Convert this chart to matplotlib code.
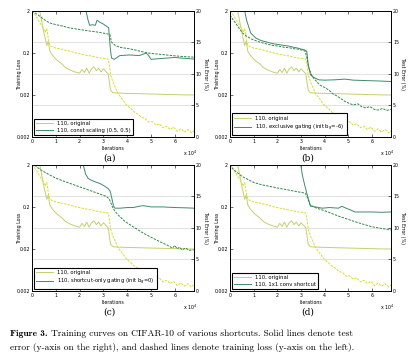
import matplotlib
matplotlib.use("Agg")
import matplotlib.pyplot as plt

# iterations are in units of 10^4
orig_err_x = [0.2, 0.35, 0.5, 0.62, 0.68, 0.75, 0.85, 0.96, 1.1, 1.25, 1.4, 1.6, 1.8, 2.0, 2.1, 2.2, 2.3,
              2.4, 2.5, 2.6, 2.7, 2.8, 2.9, 3.0, 3.1, 3.2, 3.3, 3.4, 3.6, 4.0, 4.5, 5.0, 5.5, 6.0, 6.5, 6.8]
orig_err = [22, 19.5, 16.5, 14.5, 15.2, 13.6, 13.0, 12.5, 12.0, 11.6, 11.0, 10.6, 10.3, 10.1, 10.7, 10.2, 10.9,
            10.1, 10.8, 11.1, 10.5, 10.9, 10.3, 10.8, 10.4, 10.0, 7.4, 7.0, 6.95, 6.9, 6.85, 6.8, 6.75, 6.7, 6.65, 6.65]
orig_loss_x = [0, 0.1, 0.2, 0.3, 0.4, 0.5, 0.55, 0.62, 0.68, 0.75, 0.85, 1.0, 1.15, 1.3, 1.5, 1.7, 1.9, 2.1,
               2.3, 2.5, 2.7, 2.9, 3.05, 3.2, 3.25, 3.3, 3.4, 3.5, 3.6, 3.75, 3.9, 4.0, 4.15, 4.3, 4.45, 4.6,
               4.75, 4.9, 5.05, 5.2, 5.35, 5.5, 5.65, 5.8, 5.95, 6.1, 6.25, 6.4, 6.55, 6.7, 6.8]
orig_loss = [2.0, 1.7, 1.4, 1.1, 0.9, 0.72, 0.62, 0.75, 0.45, 0.3, 0.28, 0.26, 0.25, 0.24, 0.225, 0.21, 0.195,
             0.185, 0.175, 0.168, 0.158, 0.15, 0.147, 0.142, 0.1, 0.06, 0.04, 0.03, 0.022, 0.017, 0.013, 0.011,
             0.0095, 0.0078, 0.007, 0.0058, 0.0055, 0.0045, 0.0046, 0.0038, 0.0041, 0.0033, 0.0036, 0.003,
             0.0034, 0.0027, 0.0031, 0.0026, 0.003, 0.0025, 0.0028]

a_name = "110, const scaling (0.5, 0.5)"
a_err_x = [2.1, 2.25, 2.35, 2.42, 2.55, 2.66, 2.73, 2.85, 3.0, 3.15, 3.22, 3.29, 3.34, 3.45, 3.69, 4.1, 4.5,
           4.8, 4.9, 5.0, 5.3, 5.65, 6.0, 6.3, 6.8]
a_err = [23, 20.3, 18.6, 17.7, 17.8, 17.7, 18.5, 18.2, 17.9, 17.5, 17.3, 14.0, 12.5, 12.3, 12.9, 13.0, 12.9,
         13.3, 12.9, 12.3, 12.4, 12.5, 12.6, 12.5, 12.35]
a_loss_x = [0, 0.25, 0.5, 0.75, 1.0, 1.31, 1.6, 2.0, 2.35, 2.71, 3.0, 3.27, 3.34, 3.5, 3.69, 4.0, 4.25, 4.6,
            4.95, 5.3, 5.65, 6.0, 6.35, 6.8]
a_loss = [2.0, 1.6, 1.25, 1.03, 0.94, 0.86, 0.78, 0.72, 0.67, 0.63, 0.59, 0.55, 0.36, 0.3, 0.27, 0.255, 0.24,
          0.215, 0.195, 0.187, 0.178, 0.17, 0.163, 0.158]

b_name = "110, exclusive gating (init b$_g$=-6)"
b_err_x = [0.5, 0.59, 0.7, 0.87, 1.08, 1.3, 1.6, 1.8, 2.05, 2.3, 2.5, 2.7, 2.85, 3.03, 3.15, 3.24, 3.3, 3.4,
           3.55, 3.75, 4.0, 4.4, 4.86, 5.2, 5.6, 6.0, 6.4, 6.8]
b_err = [24, 20.5, 18.5, 16.5, 15.7, 15.3, 15.0, 14.8, 14.65, 14.5, 14.4, 14.2, 14.1, 13.9, 13.8, 13.6, 11.5,
         9.84, 9.4, 9.05, 9.0, 9.05, 9.16, 9.0, 8.95, 8.9, 8.85, 8.78]
b_loss_x = [0, 0.1, 0.3, 0.52, 0.7, 0.93, 1.2, 1.5, 1.8, 2.05, 2.3, 2.5, 2.7, 2.9, 3.05, 3.17, 3.25, 3.32,
            3.47, 3.6, 3.8, 4.0, 4.17, 4.35, 4.5, 4.7, 4.86, 5.0, 5.2, 5.4, 5.56, 5.75, 5.9, 6.1, 6.26, 6.45,
            6.6, 6.8]
b_loss = [1.6, 1.3, 0.9, 0.6, 0.5, 0.42, 0.37, 0.33, 0.3, 0.29, 0.27, 0.265, 0.25, 0.245, 0.23, 0.22, 0.15,
          0.09, 0.055, 0.045, 0.034, 0.03, 0.026, 0.021, 0.019, 0.016, 0.0138, 0.0128, 0.0115, 0.0122, 0.0104,
          0.0098, 0.0105, 0.009, 0.0087, 0.0095, 0.0085, 0.009]

c_name = "110, shortcut-only gating (init b$_g$=0)"
c_err_x = [2.05, 2.15, 2.25, 2.36, 2.5, 2.7, 2.85, 3.0, 3.2, 3.28, 3.34, 3.42, 3.48, 3.7, 4.0, 4.25, 4.5,
           4.67, 4.85, 5.0, 5.5, 6.0, 6.5, 6.8]
c_err = [22, 20.0, 18.5, 17.8, 17.5, 17.2, 17.0, 16.7, 16.2, 15.8, 14.9, 13.5, 13.1, 13.1, 13.2, 13.2, 13.4,
         13.5, 13.4, 13.3, 13.3, 13.2, 13.15, 13.1]
c_loss_x = [0, 0.06, 0.4, 0.75, 1.0, 1.4, 1.97, 2.5, 3.13, 3.25, 3.41, 3.6, 3.9, 4.25, 4.6, 4.95, 5.3, 5.65,
            5.9, 6.0, 6.1, 6.2, 6.3, 6.45, 6.6, 6.8]
c_loss = [2.2, 2.0, 1.45, 1.13, 0.95, 0.78, 0.6, 0.47, 0.35, 0.3, 0.18, 0.13, 0.09, 0.067, 0.05, 0.039, 0.031,
          0.025, 0.021, 0.024, 0.02, 0.022, 0.019, 0.021, 0.0185, 0.019]

d_name = "110, 1x1 conv shortcut"
d_err_x = [2.95, 3.05, 3.15, 3.26, 3.4, 3.6, 3.89, 4.2, 4.58, 4.72, 4.9, 5.1, 5.28, 5.6, 6.0, 6.4, 6.8]
d_err = [21, 18.4, 16.8, 15.2, 13.4, 13.3, 13.1, 13.2, 13.1, 13.4, 13.1, 12.8, 12.5, 12.5, 12.5, 12.45, 12.5]
d_loss_x = [0, 0.1, 0.5, 1.0, 1.35, 2.05, 2.6, 3.17, 3.25, 3.38, 3.6, 4.0, 4.58, 5.28, 5.98, 6.8]
d_loss = [2.0, 1.6, 1.05, 0.75, 0.66, 0.55, 0.48, 0.42, 0.35, 0.22, 0.19, 0.16, 0.12, 0.088, 0.067, 0.056]

panels = ["(a)", "(b)", "(c)", "(d)"]

orig_err_c = "#c6cf6e"
orig_loss_c = "#d9dd2c"
new_err_c = "#3f8a6c"
new_loss_c = "#2f8a45"

fig = plt.figure(figsize=(4.16, 3.62), dpi=100)
fig.patch.set_facecolor("white")

pos = [[0.077, 0.622, 0.389, 0.348], [0.553, 0.622, 0.387, 0.348],
       [0.077, 0.196, 0.389, 0.3495], [0.553, 0.196, 0.387, 0.3495]]
series = [(a_name, a_err_x, a_err, a_loss_x, a_loss),
          (b_name, b_err_x, b_err, b_loss_x, b_loss),
          (c_name, c_err_x, c_err, c_loss_x, c_loss),
          (d_name, d_err_x, d_err, d_loss_x, d_loss)]

fs = 3.4
for i in range(4):
    name, ex, ey, lx, ly = series[i]
    # base axes: test error (right axis)
    ax = fig.add_axes(pos[i])
    ax2 = ax.twinx()  # training loss (left axis, log)

    ax.set_xlim(0, 6.8)
    ax.set_ylim(0, 20)
    ax.set_yticks([0, 5, 10, 15, 20])
    ax.set_xticks(range(7))
    ax.yaxis.tick_right()
    ax.yaxis.set_label_position("right")
    ax.set_ylabel("Test Error (%)", fontsize=fs, rotation=270, va="center", ha="center")
    ax.yaxis.set_label_coords(1.07, 0.5)
    ax.set_xlabel("Iterations", fontsize=fs, labelpad=1.5)
    ax.grid(axis="y", color="#dcdcdc", lw=0.6)
    ax.tick_params(direction="in", labelsize=fs, length=2, width=0.4, pad=1.5, top=True)
    l1, = ax.plot(orig_err_x, orig_err, color=orig_err_c, lw=0.7)
    l2, = ax.plot(ex, ey, color=new_err_c, lw=0.7)
    for s in ax.spines.values():
        s.set_linewidth(0.6)

    ax2.set_yscale("log")
    ax2.set_ylim(0.002, 2)
    ax2.set_yticks([0.002, 0.02, 0.2, 2])
    ax2.set_yticklabels(["0.002", "0.02", "0.2", "2"])
    ax2.minorticks_off()
    ax2.yaxis.tick_left()
    ax2.yaxis.set_label_position("left")
    ax2.set_ylabel("Training Loss", fontsize=fs, va="center", ha="center")
    ax2.yaxis.set_label_coords(-0.08, 0.5)
    ax2.tick_params(direction="in", labelsize=fs, length=2, width=0.4, pad=1.5)
    ax2.plot(orig_loss_x, orig_loss, color=orig_loss_c, lw=0.7, ls=(0, (2.5, 1.2)))
    ax2.plot(lx, ly, color=new_loss_c, lw=0.7, ls=(0, (2.5, 1.2)))
    for s in ax2.spines.values():
        s.set_linewidth(0.6)

    leg = ax2.legend([l1, l2], ["110, original", name], loc="lower left", fontsize=3.8,
                     fancybox=False, framealpha=1, edgecolor="black", handlelength=3.2,
                     borderpad=0.45, labelspacing=0.35, borderaxespad=0.3)
    leg.get_frame().set_linewidth(0.8)

    ax.text(0.93, -0.095, r"x 10$^4$", transform=ax.transAxes, fontsize=fs, va="top")
    ax.text(0.48, -0.13, panels[i], transform=ax.transAxes, fontsize=6.5,
            family="DejaVu Serif", ha="center", va="top")

t1 = fig.text(0.024, 0.078, "Figure 3.", fontsize=6.8, family="cmb10", va="center")
fig.canvas.draw()
bb = t1.get_window_extent().transformed(fig.transFigure.inverted())
fig.text(bb.x1 + 0.008, 0.078,
         "Training curves on CIFAR-10 of various shortcuts. Solid lines denote test",
         fontsize=6.8, family="cmr10", va="center")
fig.text(0.024, 0.04,
         "error (y-axis on the right), and dashed lines denote training loss (y-axis on the left).",
         fontsize=6.8, family="cmr10", va="center")

fig.savefig("out.png", dpi=100)
